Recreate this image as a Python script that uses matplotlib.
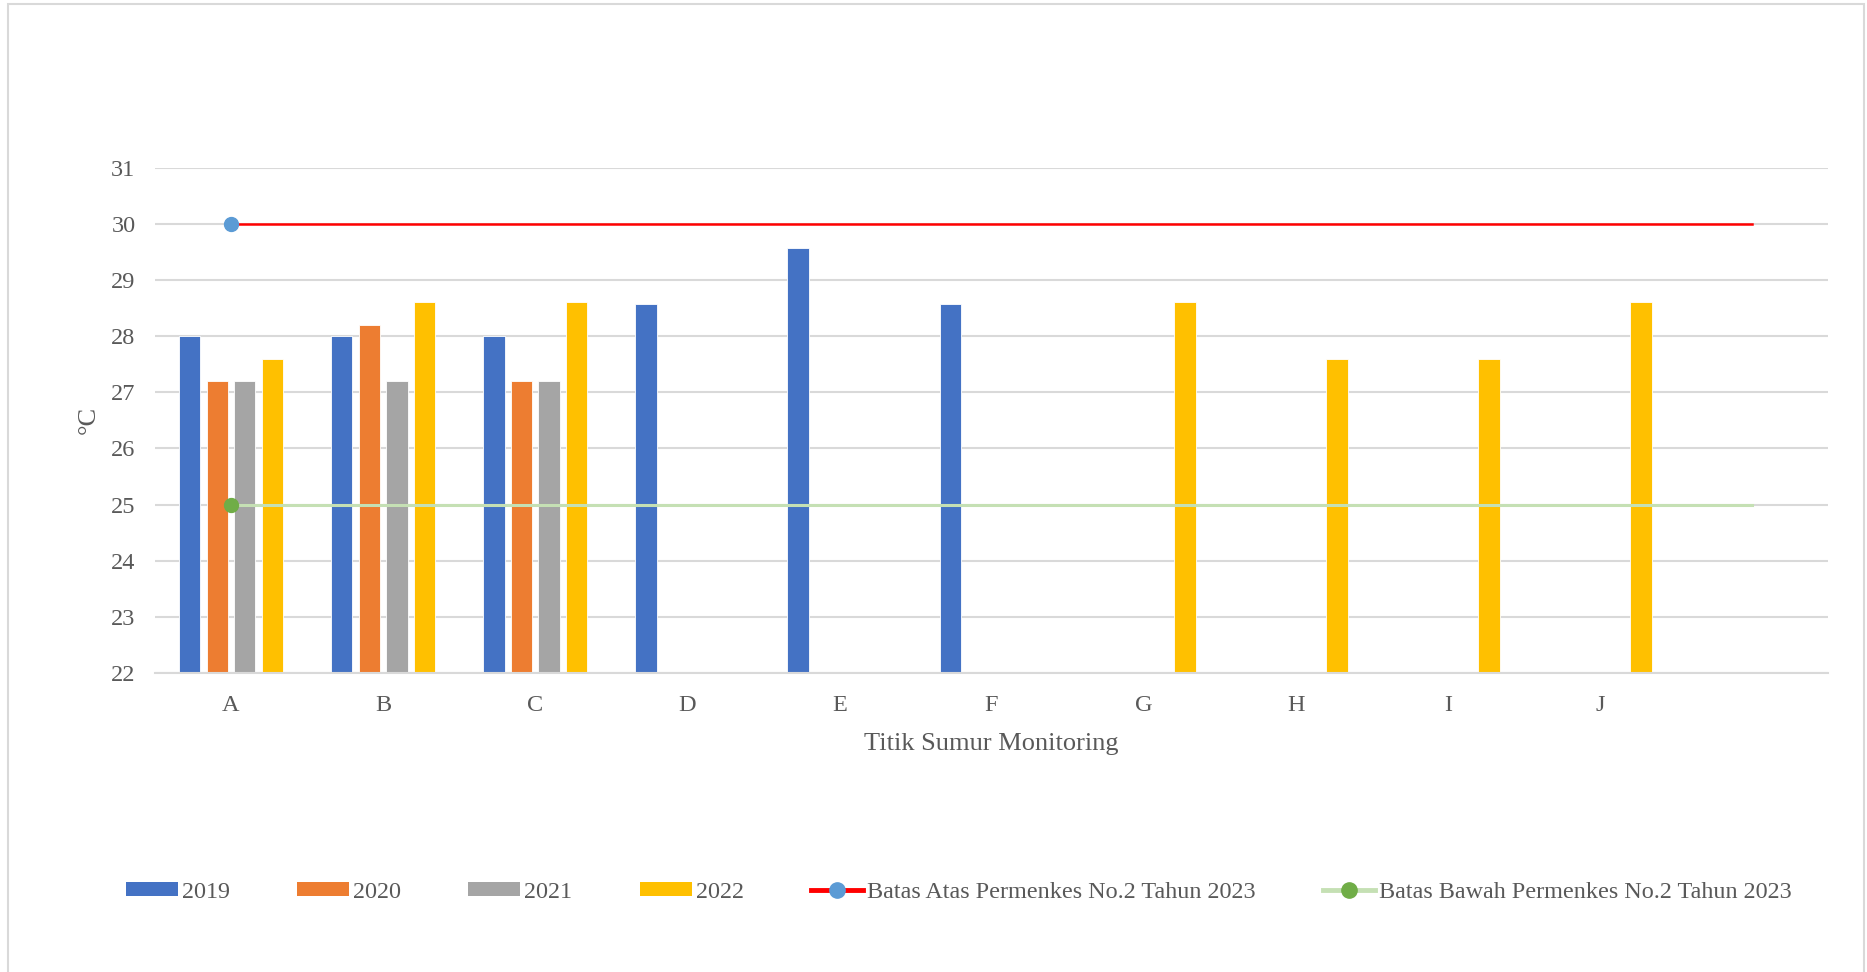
import numpy as np
import matplotlib
matplotlib.use("Agg")
import matplotlib.pyplot as plt
from matplotlib.lines import Line2D
from matplotlib.patches import Patch, Rectangle

# data
categories = ["A", "B", "C", "D", "E", "F", "G", "H", "I", "J", ""]
years = ["2019", "2020", "2021", "2022"]
val_2019 = [28.0, 28.0, 28.0, 28.57, 29.57, 28.57, np.nan, np.nan, np.nan, np.nan, np.nan]
val_2020 = [27.2, 28.2, 27.2, np.nan, np.nan, np.nan, np.nan, np.nan, np.nan, np.nan, np.nan]
val_2021 = [27.2, 27.2, 27.2, np.nan, np.nan, np.nan, np.nan, np.nan, np.nan, np.nan, np.nan]
val_2022 = [27.6, 28.6, 28.6, np.nan, np.nan, np.nan, 28.6, 27.6, 27.6, 28.6, np.nan]
batas_atas = [30, 30, 30, 30, 30, 30, 30, 30, 30, 30, 30]
batas_bawah = [25, 25, 25, 25, 25, 25, 25, 25, 25, 25, 25]
label_atas = "Batas Atas Permenkes No.2 Tahun 2023"
label_bawah = "Batas Bawah Permenkes No.2 Tahun 2023"

bar_colors = ["#4472C4", "#ED7D31", "#A5A5A5", "#FFC000"]
text_color = "#595959"
grid_color = "#D9D9D9"

plt.rcParams["font.family"] = ["Liberation Serif", "DejaVu Serif"]

fig = plt.figure(figsize=(18.67, 9.72), dpi=100)
ax = fig.add_axes([0.0830, 0.3076, 0.8961, 0.5199])

x = np.arange(len(categories))
width = 0.14
step = 0.181
series = [val_2019, val_2020, val_2021, val_2022]
for i, (vals, color) in enumerate(zip(series, bar_colors)):
    ax.bar(x + (i - 1.5) * step, vals, width=width, color=color,
           edgecolor="white", linewidth=0.6, zorder=2)

ax.plot(x, batas_atas, color="#FF0000", linewidth=1.8, marker="o", markevery=[0],
        markersize=10, markerfacecolor="#5B9BD5", markeredgecolor="#5B9BD5", zorder=3)
ax.plot(x, batas_bawah, color="#C5E0B4", linewidth=2.2, marker="o", markevery=[0],
        markersize=10, markerfacecolor="#70AD47", markeredgecolor="#70AD47", zorder=3)

ax.set_xlim(-0.5, len(categories) - 0.5)
ax.set_ylim(22, 31)
ax.set_yticks(np.arange(22, 32, 1))
ax.set_xticks(x)
ax.set_xticklabels(categories)
ax.grid(True, axis="y", color=grid_color, linewidth=1.5, zorder=0)
ax.set_axisbelow(True)
for side in ("top", "right", "left"):
    ax.spines[side].set_visible(False)
ax.spines["bottom"].set_color(grid_color)
ax.spines["bottom"].set_linewidth(1.5)
ax.tick_params(axis="both", length=0, labelsize=17.5, labelcolor=text_color)
ax.tick_params(axis="y", pad=14)
ax.tick_params(axis="x", pad=16)

ax.set_xlabel("Titik Sumur Monitoring", fontsize=19, color=text_color, labelpad=12)
ax.set_ylabel("°C", fontsize=19, color=text_color, labelpad=8)

handles = [Patch(facecolor=c, edgecolor="none") for c in bar_colors]
handles.append(Line2D([0], [0], color="#FF0000", linewidth=3.5, marker="o", markersize=11,
                      markerfacecolor="#5B9BD5", markeredgecolor="#5B9BD5"))
handles.append(Line2D([0], [0], color="#C5E0B4", linewidth=3.5, marker="o", markersize=11,
                      markerfacecolor="#70AD47", markeredgecolor="#70AD47"))
labels = years + [label_atas, label_bawah]
leg = fig.legend(handles, labels, loc="center", bbox_to_anchor=(0.5135, 0.082), ncol=6,
                 frameon=False, fontsize=17.4, handlelength=2.15, handleheight=0.5,
                 handletextpad=0.17, columnspacing=2.78)
for t in leg.get_texts():
    t.set_color(text_color)

# light chart-area border
fig.patches.append(Rectangle((8 / 1867, -0.05), 1856 / 1867, 1.05 - 4 / 972,
                             transform=fig.transFigure, fill=False,
                             edgecolor=grid_color, linewidth=1.5))

fig.savefig("out.png", dpi=100)
